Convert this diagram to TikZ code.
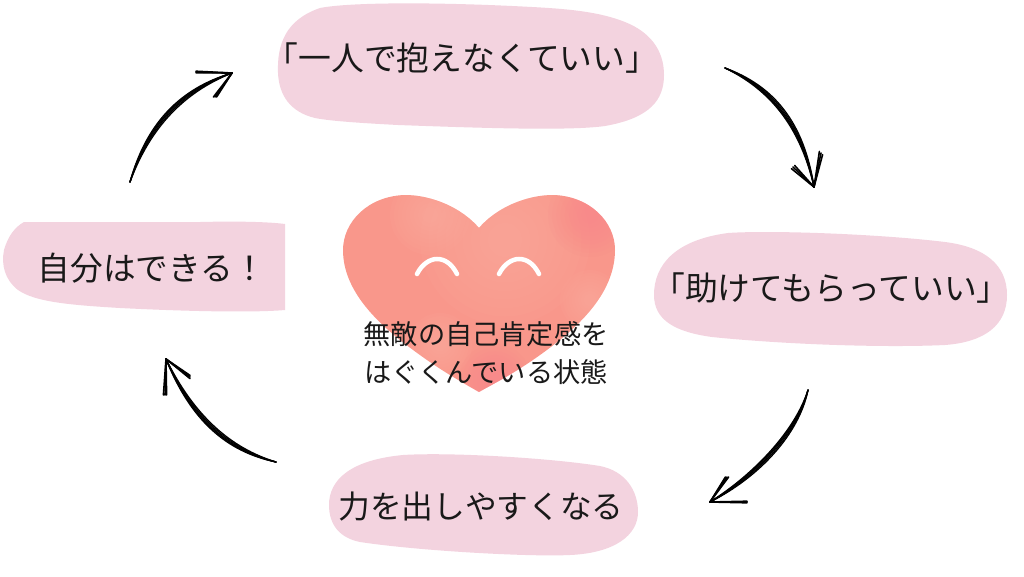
\documentclass[tikz,border=0pt]{standalone}
\usepackage{fontspec}
\setmainfont{Noto Sans CJK JP}
\usetikzlibrary{calc}
\definecolor{blob}{HTML}{F3D3DF}
\definecolor{hl}{HTML}{F9978B}
\definecolor{hm}{HTML}{FDB3A5}
\definecolor{hd}{HTML}{F8838A}
\tikzset{
 lbl/.style={text=black!90,inner sep=0pt,font=\fontsize{24.6pt}{28pt}\selectfont},
 lblsm/.style={text=black!90,inner sep=0pt,font=\fontsize{23.8pt}{28pt}\selectfont},
 lblleft/.style={text=black!90,inner sep=0pt,font=\fontsize{24.5pt}{28pt}\selectfont},
 captxt/.style={text=black!90,inner sep=0pt,align=center,font=\fontsize{20.4pt}{28pt}\selectfont},
 ink/.style={draw=black,line width=0.95pt,line cap=round},
 inkhead/.style={draw=black,line width=1.2pt,line cap=round},
 eye/.style={draw=white,line width=3.4pt,line cap=round},
 blobfill/.style={fill=blob,draw=none},
}
% soft spot: colour, x, y, radius
\newcommand{\softspot}[4]{\foreach \r in {1,0.9,...,0.1}{\fill[#1,opacity=.08] (#2,#3) circle ({#4*\r});}}
\begin{document}
\begin{tikzpicture}[x=0.75pt,y=-0.75pt]
\useasboundingbox (0,0) rectangle (1024,576);
% blobs
\path[blobfill] (278,73) .. controls (277,45) and (285,20) .. (320,8) .. controls (350,2) and (440,2) .. (532,7)
 .. controls (570,9) and (600,12) .. (625,22) .. controls (650,32) and (664,50) .. (664,75)
 .. controls (664,100) and (650,118) .. (605,126) .. controls (570,131) and (480,128) .. (398,125)
 .. controls (360,123) and (330,121) .. (315,118) .. controls (290,112) and (279,95) .. (278,73) -- cycle;
\path[blobfill] (654,295) .. controls (654,265) and (675,240) .. (728,233) .. controls (770,230) and (880,234) .. (945,242)
 .. controls (985,247) and (1007,265) .. (1007,295) .. controls (1007,325) and (985,342) .. (945,345)
 .. controls (880,348) and (780,344) .. (712,337) .. controls (675,332) and (654,320) .. (654,295) -- cycle;
\path[blobfill] (329,505) .. controls (329,480) and (350,460) .. (403,455) .. controls (450,452) and (550,458) .. (600,466)
 .. controls (625,471) and (638,490) .. (638,512) .. controls (638,535) and (615,553) .. (570,555)
 .. controls (530,557) and (420,551) .. (360,542) .. controls (340,538) and (329,525) .. (329,505) -- cycle;
\path[blobfill] (24,222) -- (200,222) .. controls (240,221) and (270,222) .. (285,224) -- (285,310)
 .. controls (250,313) and (180,311) .. (120,308) .. controls (70,305) and (35,302) .. (18,290)
 .. controls (5,280) and (1,265) .. (4,250) .. controls (8,236) and (15,227) .. (24,222) -- cycle;
% heart
\begin{scope}
\clip (479,228) .. controls (462,208) and (432,195) .. (405,195) .. controls (368,196) and (343,222) .. (343,250)
 .. controls (343,295) and (385,330) .. (420,355) .. controls (445,373) and (465,384) .. (479,392)
 .. controls (493,384) and (515,373) .. (540,355) .. controls (575,330) and (615,295) .. (615,250)
 .. controls (615,222) and (590,196) .. (553,195) .. controls (526,195) and (496,208) .. (479,228) -- cycle;
\fill[hl] (330,180) rectangle (630,400);
\softspot{hm}{505}{240}{85}
\softspot{hm}{430}{215}{40}
\softspot{hm}{440}{345}{32}
\softspot{hd}{590}{215}{42}
\softspot{hd}{495}{380}{36}
\softspot{hm}{590}{300}{30}
\end{scope}
\draw[eye] (417,274) .. controls (422,264) and (430,259) .. (437,259) .. controls (445,259) and (452,264) .. (457,274);
\draw[eye] (499,274) .. controls (504,264) and (512,259) .. (519,259) .. controls (527,259) and (534,264) .. (539,274);
% text
\node[lbl] (t1) at (462,58) {「一人で抱えなくていい」};
\node[lbl] (t2) at (831,288) {「助けてもらっていい」};
\node[lblsm] (t3) at (481,507) {力を出しやすくなる};
\node[lblleft] (t4) at (152,268) {自分はできる！};
\node[captxt] (t5) at (486,353) {無敵の自己肯定感を\\はぐくんでいる状態};
% arrows
\coordinate (a1s) at (725,68); \coordinate (a1e) at (814,187);
\coordinate (a2s) at (808,390); \coordinate (a2e) at (710,502);
\coordinate (a3s) at (276,462); \coordinate (a3e) at (166,359);
\coordinate (a4s) at (130,182); \coordinate (a4e) at (232,73);
\foreach \d in {-1.8,-0.9,0,1.1,2.2}{
 \draw[ink] (a1s) .. controls (772+\d,88-\d) and (802+\d,125-\d) .. (a1e);
 \draw[ink] (a2s) .. controls (797+\d,432+\d) and (757+\d,475+\d) .. (a2e);
 \draw[ink] (a3s) .. controls (228+\d,450-\d) and (192+\d,418-\d) .. (a3e);
 \draw[ink] (a4s) .. controls (148+\d,125+\d) and (182+\d,90+\d) .. (a4e);
}
\foreach \d in {-1.6,0,1.6}{
 \draw[inkhead] (a1e) -- (793+\d,167-\d);
 \draw[inkhead] (a1e) -- (821+\d,153+\d);
 \draw[inkhead] (a2e) -- (747,502+\d/2);
 \draw[inkhead] (a2e) -- (727+\d,477);
 \draw[inkhead] (a3e) -- (190,377+\d);
 \draw[inkhead] (a3e) -- (165+\d,395);
 \draw[inkhead] (a4e) -- (196,72+\d/2);
 \draw[inkhead] (a4e) -- (215+\d,97);
}
\end{tikzpicture}
\end{document}
